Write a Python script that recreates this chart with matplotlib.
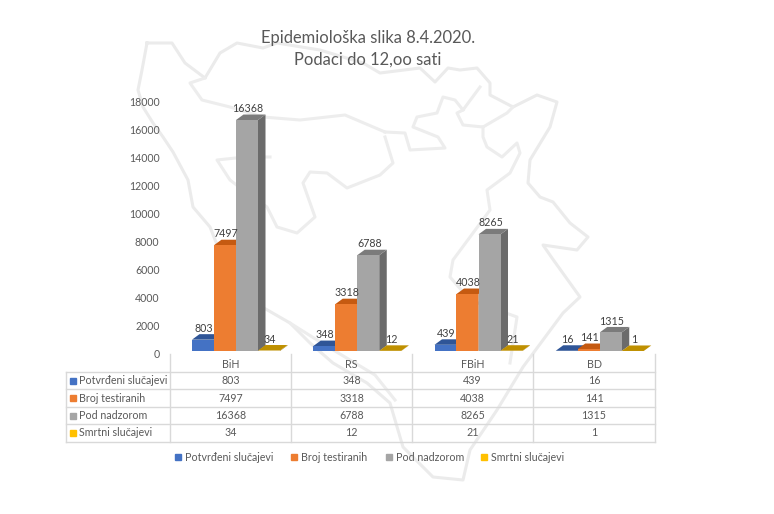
import matplotlib
matplotlib.use('Agg')
import matplotlib.pyplot as plt
from matplotlib.patches import Polygon, Rectangle

categories = ['BiH', 'RS', 'FBiH', 'BD']
series_names = ['Potvrđeni slučajevi', 'Broj testiranih', 'Pod nadzorom', 'Smrtni slučajevi']
potvrdeni = [803, 348, 439, 16]
testirani = [7497, 3318, 4038, 141]
nadzor = [16368, 6788, 8265, 1315]
smrtni = [34, 12, 21, 1]
y_ticks = [0, 2000, 4000, 6000, 8000, 10000, 12000, 14000, 16000, 18000]

series_values = [potvrdeni, testirani, nadzor, smrtni]
front_colors = ['#4472C4', '#ED7D31', '#A5A5A5', '#FFC000']
top_colors = ['#2F5597', '#C55A11', '#7B7B7B', '#BF9000']
side_colors = ['#264478', '#9E480E', '#6B6B6B', '#997300']

# faint map outline behind the chart (watermark, pixel coordinates)
map_outer = [(147, 43), (172, 43), (185, 63), (205, 78), (220, 53), (237, 43), (263, 48), (277, 43),
             (320, 50), (363, 63), (380, 73), (420, 68), (435, 82), (448, 68), (460, 70), (477, 68),
             (490, 83), (490, 95), (513, 107), (537, 95), (557, 102), (550, 127), (530, 160), (528, 183),
             (540, 197), (553, 202), (570, 223), (588, 237), (577, 250), (543, 245), (552, 258), (580, 297),
             (563, 313), (523, 367), (497, 410), (470, 450), (463, 480), (433, 477), (403, 447), (390, 403),
             (367, 383), (333, 363), (310, 343), (290, 323), (250, 300), (225, 265), (210, 227), (193, 207),
             (188, 180), (173, 152), (163, 137), (153, 123), (143, 107), (138, 90), (142, 70), (147, 43)]
map_inner = [
    [(205, 78), (190, 83), (202, 100), (230, 107), (263, 117), (300, 120), (345, 115), (385, 132)],
    [(385, 137), (393, 163), (380, 175), (347, 188), (327, 173), (310, 172), (303, 183), (315, 217),
     (297, 233), (277, 227), (267, 207), (247, 193), (230, 180), (217, 160), (245, 157), (270, 157)],
    [(385, 132), (405, 133), (410, 150), (445, 148), (438, 137), (413, 127), (417, 117), (437, 113),
     (443, 97), (455, 100), (463, 110), (480, 87)],
    [(463, 110), (457, 113), (463, 125), (483, 127), (507, 113), (513, 107)],
    [(483, 127), (483, 137), (487, 147), (502, 157), (517, 143), (520, 153), (510, 173), (487, 190),
     (490, 210), (473, 233), (453, 260), (450, 277), (470, 300), (517, 317), (510, 363)],
    [(290, 323), (325, 345), (375, 375), (395, 400)],
]

W, H = 774, 514
fig = plt.figure(figsize=(W / 100, H / 100), dpi=100)
plt.rcParams['font.family'] = ['Lato', 'DejaVu Sans']
txt_col = '#595959'


def px_axes(left, top, right, bottom, **kw):
    return fig.add_axes([left / W, 1 - bottom / H, (right - left) / W, (bottom - top) / H], **kw)


# overlay in pixels for the watermark, table and legend
bg = px_axes(0, 0, W, H)
bg.set_xlim(0, W)
bg.set_ylim(H, 0)
bg.axis('off')
bg.plot(*zip(*map_outer), color='#EBEBEB', lw=2.2, solid_joinstyle='round', zorder=1)
for part in map_inner:
    bg.plot(*zip(*part), color='#EDEDED', lw=2.2, solid_joinstyle='round', zorder=1)

bg.text(368, 38, 'Epidemiološka slika 8.4.2020.', ha='center', va='center', fontsize=11.9, color=txt_col)
bg.text(368, 60, 'Podaci do 12,oo sati', ha='center', va='center', fontsize=11.9, color=txt_col)

# data table
col_x = [170, 291, 412, 533, 655]
row_y = [372, 389, 407, 424, 442]
line_col = '#D9D9D9'
for y in row_y:
    bg.plot([66, 655], [y, y], color=line_col, lw=1, zorder=2)
bg.plot([66, 66], [372, 442], color=line_col, lw=1, zorder=2)
for x in col_x:
    bg.plot([x, x], [354, 442], color=line_col, lw=1, zorder=2)
for i, cat in enumerate(categories):
    xc = (col_x[i] + col_x[i + 1]) / 2
    bg.text(xc, 365, cat, ha='center', va='center', fontsize=7.7, color=txt_col, zorder=3)
    for j, vals in enumerate(series_values):
        yc = (row_y[j] + row_y[j + 1]) / 2
        bg.text(xc, yc, str(vals[i]), ha='center', va='center', fontsize=7.7, color=txt_col, zorder=3)
for j, name in enumerate(series_names):
    yc = (row_y[j] + row_y[j + 1]) / 2
    bg.add_patch(Rectangle((70, yc - 3), 6, 6, color=front_colors[j], zorder=3))
    bg.text(79, yc, name, ha='left', va='center', fontsize=7.7, color=txt_col, zorder=3)

# legend
legend_x = [175, 291, 386, 481]
for x, name, col in zip(legend_x, series_names, front_colors):
    bg.add_patch(Rectangle((x, 454), 6, 6, color=col, zorder=3))
    bg.text(x + 10, 457.5, name, ha='left', va='center', fontsize=7.7, color=txt_col, zorder=3)

# value axis labels
ax_y = px_axes(165, 102, 655, 354)
ax_y.patch.set_alpha(0)
ax_y.set_ylim(0, 18000)
ax_y.set_xticks([])
ax_y.set_yticks(y_ticks)
ax_y.tick_params(axis='y', length=0, pad=4, labelsize=7.6, labelcolor=txt_col)
for s in ax_y.spines.values():
    s.set_visible(False)

# bars, faked 3D with a top and a side polygon
bar_top_px, bar_bottom_px = 97, 351
ax = px_axes(170, bar_top_px, 655, bar_bottom_px)
ax.patch.set_alpha(0)
ax.axis('off')
ax.set_xlim(0, 4)
ax.set_ylim(0, 18000)

x_per_px = 4 / (655 - 170)
y_per_px = 18000 / (bar_bottom_px - bar_top_px)
bw = 22 * x_per_px
dx = 7.5 * x_per_px
dy = 5.5 * y_per_px
start = 22 * x_per_px

for i in range(len(categories)):
    for j, vals in enumerate(series_values):
        v = vals[i]
        x0 = i + start + j * bw
        x1 = x0 + bw
        z = 10 + j
        ax.add_patch(Polygon([(x1, 0), (x1 + dx, dy), (x1 + dx, v + dy), (x1, v)],
                             closed=True, fc=side_colors[j], ec='none', zorder=z, clip_on=False))
        ax.add_patch(Polygon([(x0, v), (x0 + dx, v + dy), (x1 + dx, v + dy), (x1, v)],
                             closed=True, fc=top_colors[j], ec='none', zorder=z, clip_on=False))
        ax.bar(x0, v, width=bw, align='edge', color=front_colors[j], zorder=z, clip_on=False)
        ax.annotate(str(v), (x0 + bw / 2 + 1 * x_per_px, v), xytext=(0, 8.2), textcoords='offset points',
                    ha='center', va='center', fontsize=7.7, color='#404040', zorder=20)

fig.savefig('out.png', dpi=100)
